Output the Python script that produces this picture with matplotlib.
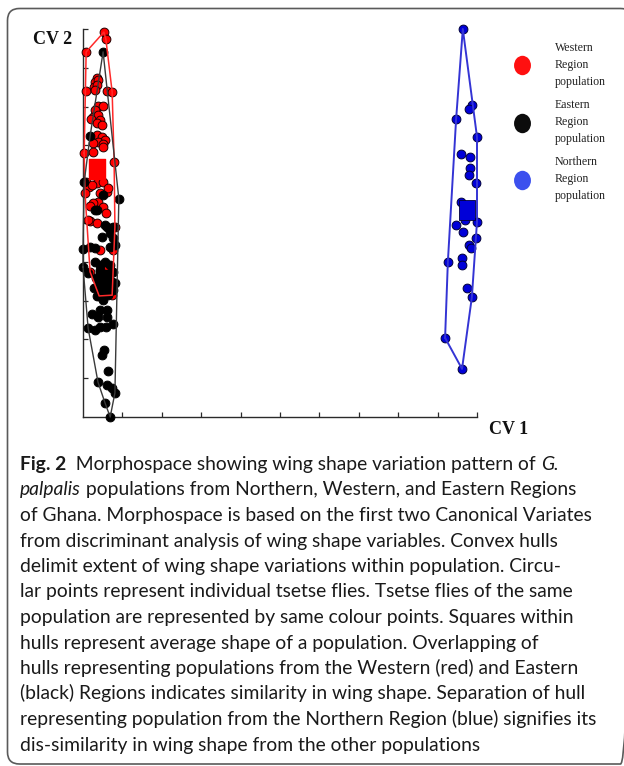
import numpy as np
import matplotlib
matplotlib.use('Agg')
import matplotlib.pyplot as plt
from matplotlib.lines import Line2D
from matplotlib.patches import FancyBboxPatch
from matplotlib.path import Path
from matplotlib.transforms import Affine2D

# CV scores (axis runs 0-10 on both CVs)
west_cv1 = [0.53, 0.58, 0.08, 0.36, 0.30, 0.38, 0.28, 0.36, 0.08, 0.30, 0.61, 0.74,
            0.38, 0.51, 0.30, 0.25, 0.38, 0.20, 0.43, 0.36, 0.48, 0.36, 0.48, 0.56,
            0.38, 0.25, 0.51, 0.03, 0.25, 0.51, 0.79, 0.08, 0.36, 0.51, 0.15, 0.05,
            0.43, 0.61, 0.38, 0.25, 0.51, 0.18, 0.58, 0.18, 0.36, 0.81, 0.13, 0.43,
            0.23, 0.63, 0.76, 0.18, 0.41, 0.74, 0.56]
west_cv2 = [9.92, 9.74, 9.41, 8.74, 8.63, 8.69, 8.51, 8.56, 8.40, 8.43, 8.40, 8.38,
            8.02, 8.02, 7.91, 7.73, 7.78, 7.68, 7.65, 7.58, 7.53, 7.27, 7.22, 7.14,
            7.09, 7.06, 7.04, 6.80, 6.83, 6.96, 6.57, 6.06, 6.03, 6.06, 5.93, 5.77,
            5.77, 5.80, 5.54, 5.52, 5.41, 5.44, 5.26, 5.05, 5.00, 4.90, 5.08, 4.30,
            5.98, 5.90, 4.30, 3.74, 3.12, 3.14, 3.79]

east_cv1 = [0.51, 0.18, 0.51, 0.91, 0.36, 0.61, 0.03, 0.30, 0.56, 0.76, 0.48, 0.69,
            0.76, 0.00, 0.30, 0.69, 0.18, 0.81, 0.00, 0.13, 0.43, 0.76, 0.30, 0.43,
            0.56, 0.69, 0.33, 0.46, 0.58, 0.71, 0.81, 0.28, 0.41, 0.53, 0.66, 0.76,
            0.36, 0.51, 0.63, 0.41, 0.58, 0.51, 0.23, 0.43, 0.61, 0.38, 0.61, 0.13,
            0.30, 0.43, 0.58, 0.76, 0.53, 0.48, 0.63, 0.38, 0.61, 0.74, 0.81, 0.56,
            0.69]
east_cv2 = [9.41, 7.24, 5.72, 5.62, 5.34, 4.90, 6.06, 5.34, 4.95, 4.90, 4.64, 4.74,
            4.61, 4.33, 4.36, 4.38, 4.38, 4.43, 3.87, 3.71, 3.79, 3.74, 3.99, 3.92,
            3.99, 3.92, 3.58, 3.53, 3.58, 3.51, 3.45, 3.32, 3.25, 3.30, 3.22, 3.27,
            3.12, 3.09, 3.14, 3.43, 3.40, 3.02, 2.65, 2.76, 2.76, 2.58, 2.58, 2.29,
            2.24, 2.32, 2.32, 2.40, 1.73, 1.60, 1.19, 0.90, 0.82, 0.75, 0.62, 0.36,
            0.00]

north_cv1 = [9.64, 9.87, 9.80, 9.47, 10.00, 9.59, 9.82, 9.82, 9.80, 9.97, 9.59, 10.00,
             9.47, 9.70, 9.64, 9.97, 9.80, 9.85, 9.26, 9.62, 9.62, 9.75, 9.87, 9.19,
             9.62]
north_cv2 = [10.00, 8.04, 7.94, 7.68, 7.22, 6.78, 6.70, 6.42, 6.24, 6.03, 5.54, 5.03,
             4.95, 5.08, 4.77, 4.61, 4.43, 4.36, 3.99, 4.10, 3.92, 3.32, 3.09, 2.04,
             1.24]

# population means (squares)
mean_cv1 = {'west': 0.36, 'east': 0.53, 'north': 9.75}
mean_cv2 = {'west': 6.39, 'east': 3.53, 'north': 5.34}

legend_labels = ['Western\nRegion\npopulation', 'Eastern\nRegion\npopulation',
                 'Northern\nRegion\npopulation']

caption = [
    [('Fig. 2', 'bold'), ('  Morphospace showing wing shape variation pattern of ', 'normal'),
     ('G.', 'italic')],
    [('palpalis', 'italic'), (' populations from Northern, Western, and Eastern Regions', 'normal')],
    [('of Ghana. Morphospace is based on the first two Canonical Variates', 'normal')],
    [('from discriminant analysis of wing shape variables. Convex hulls', 'normal')],
    [('delimit extent of wing shape variations within population. Circu-', 'normal')],
    [('lar points represent individual tsetse flies. Tsetse flies of the same', 'normal')],
    [('population are represented by same colour points. Squares within', 'normal')],
    [('hulls represent average shape of a population. Overlapping of', 'normal')],
    [('hulls representing populations from the Western (red) and Eastern', 'normal')],
    [('(black) Regions indicates similarity in wing shape. Separation of hull', 'normal')],
    [('representing population from the Northern Region (blue) signifies its', 'normal')],
    [('dis-similarity in wing shape from the other populations', 'normal')],
]

SERIF = 'Liberation Serif'
CAP_FONT = 'Lato'
W, H = 624, 766


def hull(xs, ys):
    pts = sorted(set(zip(xs, ys)))

    def cross(o, a, b):
        return (a[0] - o[0]) * (b[1] - o[1]) - (a[1] - o[1]) * (b[0] - o[0])

    lower, upper = [], []
    for p in pts:
        while len(lower) >= 2 and cross(lower[-2], lower[-1], p) <= 0:
            lower.pop()
        lower.append(p)
    for p in reversed(pts):
        while len(upper) >= 2 and cross(upper[-2], upper[-1], p) <= 0:
            upper.pop()
        upper.append(p)
    ring = lower[:-1] + upper[:-1]
    ring.append(ring[0])
    return [p[0] for p in ring], [p[1] for p in ring]


fig = plt.figure(figsize=(W / 100, H / 100), dpi=100)
fig.patch.set_facecolor('white')

# page layer in pixel units: frame + caption
bg = fig.add_axes([0, 0, 1, 1], zorder=0)
bg.set_xlim(0, W)
bg.set_ylim(H, 0)
bg.axis('off')
bg.add_patch(FancyBboxPatch((7.5, 8.5), 625, 755.5,
                            boxstyle='round,pad=0,rounding_size=12',
                            fc='none', ec='#5a5a5a', lw=1.2, clip_on=False))

ax = fig.add_axes([83 / W, 1 - 417 / H, (477 - 83) / W, (417 - 29) / H], zorder=2)
ax.patch.set_alpha(0)
ax.set_xlim(0, 10)
ax.set_ylim(0, 10)
for s in ('top', 'right'):
    ax.spines[s].set_visible(False)
for s in ('left', 'bottom'):
    ax.spines[s].set_color('#2a2a2a')
    ax.spines[s].set_linewidth(1.0)
ax.set_xticks(range(1, 11))
ax.set_yticks(range(1, 11))
ax.tick_params(direction='in', length=3.8, width=0.9, color='#2a2a2a',
               labelbottom=False, labelleft=False)

pt = dict(s=40, linewidths=0.7, clip_on=False)
ax.scatter(west_cv1, west_cv2, c='#ff0000', edgecolors='#200000', zorder=3, **pt)
ax.scatter(east_cv1, east_cv2, c='#000000', edgecolors='#000000', zorder=4, **pt)
ax.scatter(north_cv1, north_cv2, c='#0000d8', edgecolors='#00003a', zorder=4, **pt)

for xs, ys, col, lw in [(west_cv1, west_cv2, '#ff2a2a', 1.1),
                        (east_cv1, east_cv2, '#3a3a3a', 1.0),
                        (north_cv1, north_cv2, '#3434d4', 1.4)]:
    hx, hy = hull(xs, ys)
    ax.plot(hx, hy, color=col, lw=lw, zorder=5, clip_on=False)

rect = Path([(-0.39, -0.5), (0.39, -0.5), (0.39, 0.5), (-0.39, 0.5), (-0.39, -0.5)])
ax.plot(mean_cv1['east'], mean_cv2['east'], marker=rect, ms=14, color='#000000',
        ls='none', zorder=4)
ax.plot(mean_cv1['west'], mean_cv2['west'], marker=rect, ms=14, color='#ff0000',
        ls='none', zorder=6)
ax.plot(mean_cv1['north'], mean_cv2['north'], marker=rect, ms=14, color='#0000d8',
        mec='#00003a', mew=0.6, ls='none', zorder=6)

ax.text(-11 / 394, (417 - 40) / 388, 'CV 2', transform=ax.transAxes, ha='right',
        va='center', fontsize=13, fontweight='bold', family=SERIF, color='#111111')
ax.text(1.03, -0.01, 'CV 1', transform=ax.transAxes, ha='left', va='top',
        fontsize=13, fontweight='bold', family=SERIF, color='#111111')

oval = Path.unit_circle().transformed(Affine2D().scale(1.0, 1.15))
handles = [Line2D([], [], ls='none', marker=oval, ms=14, color=c, mec='none')
           for c in ('#ff1010', '#0c0c0c', '#3c50ee')]
leg = ax.legend(handles, legend_labels, loc='upper left',
                bbox_to_anchor=(510 / W, 1 - 42 / H), bbox_transform=fig.transFigure,
                frameon=False, borderpad=0, borderaxespad=0, handlelength=2.0,
                handletextpad=1.76, labelspacing=0.95,
                prop={'family': SERIF, 'size': 8.6})
for t in leg.get_texts():
    t.set_linespacing(1.55)
    t.set_color('#222222')

# caption, drawn run by run so bold/italic pieces follow each other
renderer = fig.canvas.get_renderer()
CAP_SIZE = 13.9
for i, line in enumerate(caption):
    x = 20.0
    y = 470 + 25.5 * i
    for txt, style in line:
        kw = dict(fontsize=CAP_SIZE, family=CAP_FONT, color='#1a1a1a', va='baseline', ha='left')
        if style == 'bold':
            kw['fontweight'] = 'bold'
        elif style == 'italic':
            kw['fontstyle'] = 'italic'
        t = bg.text(x, y, txt, **kw)
        bb = t.get_window_extent(renderer)
        x += bb.width

fig.savefig('out.png', dpi=100, facecolor='white')
